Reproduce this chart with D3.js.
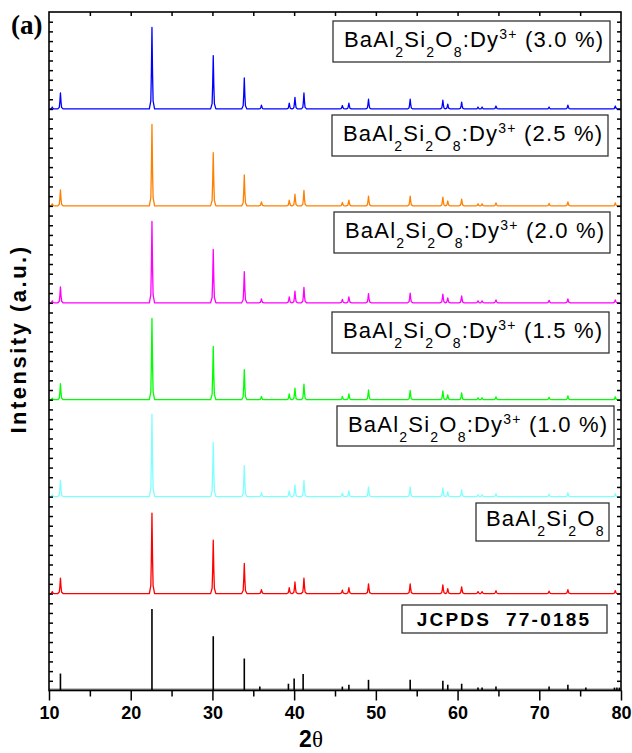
<!DOCTYPE html>
<html>
<head>
<meta charset="utf-8">
<script src="https://cdn.jsdelivr.net/npm/d3@7"></script>
<style>
  body { margin: 0; background: #fff; }
  svg { display: block; }
</style>
</head>
<body>
<div id="chart"></div>
<script>
// peak positions (2theta) and heights
var peakPos = [10.4, 11.4, 22.6, 30.1, 33.9, 36.0, 39.4, 40.1, 41.2, 45.9, 46.7, 49.1, 54.2, 58.2, 58.8, 60.5, 62.5, 63.0, 64.7, 71.2, 73.5, 79.3];
var blueInt    = [2, 16.5, 84, 55, 32, 4, 6, 12, 16.5, 3.5, 6, 10, 10, 9, 5, 7, 2, 2, 3, 2, 4, 3];
var orangeInt  = [2, 16.5, 84, 55, 32, 4, 6, 12, 16, 3.5, 6, 10, 10, 9, 5, 7, 2, 2, 3, 2.5, 4, 3];
var magentaInt = [2, 16.5, 84, 55, 32, 4, 6, 12, 16, 3.5, 6, 9.5, 10, 9, 5, 7, 2, 2, 3, 2.5, 4, 3];
var greenInt   = [1.5, 16.5, 84, 55, 31, 3.5, 6, 12, 16, 3.5, 6, 10, 9.5, 9, 5, 7, 2, 2, 3, 2.5, 4, 3];
var cyanInt    = [2, 17, 85, 56, 32, 4, 6, 12, 16.5, 3.5, 6, 10, 10, 9, 5, 7, 2, 2, 3, 2.5, 4, 3];
var redInt     = [2, 16, 83, 55, 31, 4, 6, 12, 16, 3.5, 6, 10, 10, 9, 5, 7, 2, 2, 3, 2.5, 4, 3];

// JCPDS 77-0185 stick pattern
var refPos = [11.4, 22.6, 30.1, 33.9, 35.8, 39.3, 40.0, 41.1, 45.9, 46.7, 49.1, 54.2, 58.2, 58.8, 60.5, 62.5, 63.0, 64.7, 71.2, 73.5, 75.7, 79.2, 79.5, 79.8];
var refInt = [17.5, 84, 56, 33, 4, 7, 12.5, 17, 4, 6, 11, 11, 10, 6, 7, 3, 3, 4, 4, 6, 3, 3, 3, 3];

var offsets = [600, 500, 400, 300, 200, 100];
var colors = ["#0000ff", "#ff8000", "#ff00ff", "#00ff00", "#80ffff", "#ff0000"];
var pct = ["3.0", "2.5", "2.0", "1.5", "1.0"];
var xTicks = [10, 20, 30, 40, 50, 60, 70, 80];

var svgwidth = 632, svgheight = 753;
var margin = {top: 12, left: 49, right: 11, bottom: 62.5};
var width = svgwidth - margin.left - margin.right;
var height = svgheight - margin.top - margin.bottom;

var svg = d3.select("#chart").append("svg").attr("width", svgwidth).attr("height", svgheight);
var g = svg.append("g").attr("transform", `translate(${margin.left},${margin.top})`);

var x = d3.scaleLinear().domain([10, 80]).range([0, width]);
var y = d3.scaleLinear().domain([0, 700]).range([height, 0]);

// build each pattern from its peaks: flat baseline with narrow peak shapes
var shape = [[-0.32, 0], [-0.14, 0.1], [-0.07, 0.45], [0, 1], [0.07, 0.45], [0.14, 0.1], [0.32, 0]];
function pattern(ints, off) {
    var pts = [[10, off]];
    peakPos.forEach(function(p, i) {
        shape.forEach(function(s) { pts.push([p + s[0], off + ints[i] * s[1]]); });
    });
    pts.push([80, off]);
    return pts;
}
var line = d3.line().x(d => x(d[0])).y(d => y(d[1]));

var series = [blueInt, orangeInt, magentaInt, greenInt, cyanInt, redInt];
var plot = g.append("g");
series.forEach(function(s, i) {
    plot.append("path").datum(pattern(s, offsets[i]))
        .attr("d", line).attr("fill", "none").attr("stroke", colors[i])
        .attr("stroke-width", 1.3).attr("stroke-linejoin", "round");
});

// reference sticks
plot.append("line").attr("x1", x(10)).attr("x2", x(80)).attr("y1", y(1)).attr("y2", y(1))
    .attr("stroke", "#888").attr("stroke-width", 2);
plot.selectAll(".stick").data(refPos).enter().append("line").attr("class", "stick")
    .attr("x1", d => x(d)).attr("x2", d => x(d))
    .attr("y1", y(0)).attr("y2", (d, i) => y(refInt[i]))
    .attr("stroke", "#000").attr("stroke-width", 1.6);

// axes
var bottomAxis = d3.axisBottom(x).tickValues(xTicks).tickSize(10).tickPadding(6).tickFormat(d3.format("d"));
var bottomMinor = d3.axisBottom(x).tickValues(d3.range(15, 80, 10)).tickSize(6).tickFormat("");
var topAxis = d3.axisTop(x).tickValues(d3.range(15, 80, 5)).tickSize(-4).tickFormat("");
var leftAxis = d3.axisLeft(y).tickValues(d3.range(10, 700, 10)).tickSize(-4).tickFormat("");
var rightAxis = d3.axisRight(y).tickValues(d3.range(10, 700, 10)).tickSize(-4).tickFormat("");

var gb = g.append("g").attr("transform", `translate(0,${height})`).call(bottomAxis);
g.append("g").attr("transform", `translate(0,${height})`).call(bottomMinor);
g.append("g").call(topAxis);
g.append("g").call(leftAxis);
g.append("g").attr("transform", `translate(${width},0)`).call(rightAxis);
g.selectAll(".domain").remove();
g.selectAll(".tick line").attr("stroke", "#000").attr("stroke-width", 1.5);
gb.selectAll("text").attr("font-family", "Arial, Liberation Sans, sans-serif").attr("font-weight", "bold")
    .attr("font-size", 18).attr("fill", "#000");

g.append("rect").attr("width", width).attr("height", height)
    .attr("fill", "none").attr("stroke", "#000").attr("stroke-width", 1.6);

// axis titles
svg.append("text").attr("x", 311).attr("y", 747).attr("text-anchor", "middle")
    .attr("font-size", 23).attr("font-weight", "bold").attr("font-family", "Arial, Liberation Sans, sans-serif")
    .text("2").append("tspan").attr("font-family", "Times New Roman, Liberation Serif, serif")
    .attr("font-weight", "normal").text("θ");
svg.append("text").attr("transform", "translate(26,339) rotate(-90)").attr("text-anchor", "middle")
    .attr("font-size", 22).attr("font-weight", "bold").attr("letter-spacing", 2.5)
    .attr("font-family", "Arial, Liberation Sans, sans-serif")
    .text("Intensity (a.u.)");
svg.append("text").attr("x", 11).attr("y", 34)
    .attr("font-size", 27).attr("font-weight", "bold").attr("font-family", "Times New Roman, Liberation Serif, serif")
    .text("(a)");

// labels
var boxes = [
    {x: 333, y: 21, w: 277, h: 41},
    {x: 332, y: 115, w: 276, h: 41},
    {x: 334, y: 212, w: 276, h: 41},
    {x: 332, y: 312, w: 277, h: 41},
    {x: 337, y: 406, w: 277, h: 40}
];
function formula(t, size) {
    var sub = size * 0.64;
    t.append("tspan").text("BaAl");
    t.append("tspan").attr("font-size", sub).attr("dy", 10).text("2");
    t.append("tspan").attr("dy", -10).text("Si");
    t.append("tspan").attr("font-size", sub).attr("dy", 10).text("2");
    t.append("tspan").attr("dy", -10).text("O");
    t.append("tspan").attr("font-size", sub).attr("dy", 10).text("8");
}
boxes.forEach(function(b, i) {
    svg.append("rect").attr("x", b.x).attr("y", b.y).attr("width", b.w).attr("height", b.h)
        .attr("fill", "#fff").attr("stroke", "#333").attr("stroke-width", 1.3);
    var t = svg.append("text").attr("x", b.x + 11).attr("y", b.y + 26)
        .attr("font-size", 22).attr("letter-spacing", 1.2).attr("font-family", "Arial, Liberation Sans, sans-serif");
    formula(t, 22);
    t.append("tspan").attr("dy", -10).text(":Dy");
    t.append("tspan").attr("font-size", 14).attr("dy", -8).text("3+");
    t.append("tspan").attr("dy", 8).text(" (" + pct[i] + " %)");
});
svg.append("rect").attr("x", 476).attr("y", 503).attr("width", 133).attr("height", 38)
    .attr("fill", "#fff").attr("stroke", "#333").attr("stroke-width", 1.3);
var t0 = svg.append("text").attr("x", 486).attr("y", 526)
    .attr("font-size", 22).attr("letter-spacing", 1.2).attr("font-family", "Arial, Liberation Sans, sans-serif");
formula(t0, 22);
svg.append("rect").attr("x", 402).attr("y", 605).attr("width", 205).attr("height", 28)
    .attr("fill", "#fff").attr("stroke", "#333").attr("stroke-width", 1.3);
svg.append("text").attr("x", 504).attr("y", 626).attr("text-anchor", "middle")
    .attr("font-size", 19).attr("font-weight", "bold").attr("letter-spacing", 2.2)
    .attr("font-family", "Arial, Liberation Sans, sans-serif").attr("xml:space", "preserve")
    .text("JCPDS  77-0185");
</script>
</body>
</html>
